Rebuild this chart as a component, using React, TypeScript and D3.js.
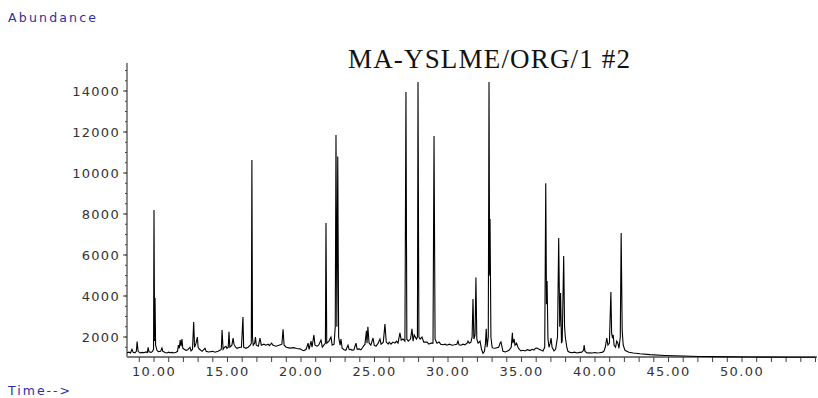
import React, { useEffect, useRef } from "react";
import * as d3 from "d3";

// chromatogram trace, [time (min), abundance]
const trace08to16: [number, number][] = [
  [8.16, 1230], [8.3, 1260], [8.4, 1220], [8.5, 1400], [8.58, 1250], [8.7, 1230], [8.8, 1300],
  [8.85, 1780], [8.92, 1300], [9.05, 1220], [9.2, 1250], [9.32, 1230], [9.45, 1270], [9.55, 1240],
  [9.6, 1500], [9.66, 1280], [9.8, 1250], [9.9, 1300], [9.97, 1400], [10.0, 8200], [10.04, 1800],
  [10.07, 3900], [10.11, 1600], [10.2, 1350], [10.3, 1280], [10.45, 1300], [10.54, 1460], [10.6, 1300],
  [10.75, 1240], [10.88, 1220], [11.0, 1260], [11.1, 1230], [11.22, 1250], [11.35, 1220], [11.5, 1260],
  [11.6, 1300], [11.66, 1600], [11.72, 1450], [11.78, 1850], [11.84, 1550], [11.9, 1900], [11.96, 1450],
  [12.05, 1400], [12.18, 1350], [12.3, 1380], [12.45, 1500], [12.52, 1320], [12.62, 1400], [12.7, 2730],
  [12.76, 1500], [12.86, 1700], [12.95, 2000], [13.0, 1500], [13.1, 1400], [13.27, 1300], [13.47, 1450],
  [13.55, 1300], [13.7, 1270], [13.81, 1280], [14.0, 1300], [14.15, 1260], [14.35, 1300], [14.49, 1350],
  [14.58, 1400], [14.63, 2340], [14.7, 1400], [14.8, 1500], [14.9, 1550], [14.96, 1450], [15.05, 1500],
  [15.1, 2250], [15.16, 1500], [15.3, 1600], [15.38, 1950], [15.44, 1650], [15.55, 1500], [15.65, 1450],
  [15.85, 1500], [15.95, 1500], [16.05, 2970], [16.1, 1500], [16.25, 1450], [16.4, 1500], [16.55, 1600],
  [16.62, 1700], [16.66, 10630], [16.7, 2000], [16.75, 1600], [16.85, 1700], [16.9, 2000], [16.96, 1600],
];

const trace17to27: [number, number][] = [
  [17.1, 1550], [17.21, 1950], [17.3, 1600], [17.48, 1650], [17.6, 1600], [17.76, 1650], [17.85, 1580],
  [18.0, 1700], [18.1, 1600], [18.3, 1550], [18.5, 1600], [18.7, 1650], [18.78, 2380], [18.85, 1600],
  [19.0, 1500], [19.25, 1460], [19.5, 1480], [19.7, 1440], [19.93, 1420], [20.1, 1350], [20.2, 1330],
  [20.35, 1400], [20.48, 1700], [20.55, 1400], [20.68, 1800], [20.75, 1500], [20.88, 2100], [20.95, 1600],
  [21.09, 1550], [21.2, 1600], [21.36, 1850], [21.45, 1500], [21.55, 1600], [21.66, 1700], [21.7, 7560],
  [21.75, 1700], [21.9, 1800], [22.04, 2000], [22.12, 1600], [22.25, 1650], [22.33, 2500], [22.38, 11850],
  [22.44, 2500], [22.5, 10800], [22.56, 2000], [22.66, 1600], [22.72, 1900], [22.8, 1450], [22.93, 1380],
  [23.05, 1350], [23.2, 1600], [23.28, 1380], [23.4, 1400], [23.47, 1350], [23.6, 1380], [23.74, 1700],
  [23.82, 1400], [23.95, 1420], [24.08, 1380], [24.2, 1500], [24.35, 1650], [24.45, 2300], [24.49, 1700],
  [24.55, 2500], [24.63, 1700], [24.75, 1600], [24.9, 1950], [24.98, 1600], [25.1, 1550], [25.25, 1700],
  [25.37, 1900], [25.45, 1650], [25.6, 1750], [25.71, 2630], [25.8, 1750], [25.92, 1650], [26.0, 1750],
  [26.12, 1650], [26.25, 1750], [26.39, 1700], [26.5, 1800], [26.6, 1700], [26.73, 2200], [26.82, 1850],
  [26.94, 1900], [27.07, 1800], [27.14, 13950], [27.2, 1900], [27.3, 1800], [27.45, 1900], [27.55, 2400],
  [27.62, 1800], [27.7, 2100], [27.85, 1900], [27.92, 2000], [27.96, 14440], [28.02, 2000],
];

const trace28to37: [number, number][] = [
  [28.1, 1900], [28.23, 2000], [28.35, 1750], [28.57, 1750], [28.7, 1650], [28.84, 1700], [28.98, 1700],
  [29.05, 11800], [29.12, 1900], [29.25, 1700], [29.39, 1760], [29.5, 1650], [29.66, 1620], [29.8, 1650],
  [29.93, 1600], [30.1, 1650], [30.27, 1600], [30.45, 1620], [30.6, 1650], [30.68, 1800], [30.75, 1620],
  [30.9, 1600], [31.02, 1650], [31.15, 1620], [31.3, 1700], [31.36, 1800], [31.45, 1700], [31.56, 1750],
  [31.64, 2000], [31.7, 3850], [31.76, 1900], [31.84, 2100], [31.9, 4900], [31.96, 1900], [32.05, 1700],
  [32.18, 1800], [32.28, 1400], [32.38, 1200], [32.48, 1300], [32.55, 1700], [32.6, 2400], [32.66, 1500],
  [32.74, 2000], [32.79, 14440], [32.83, 5000], [32.86, 7750], [32.92, 2000], [33.0, 1500], [33.06, 1460],
  [33.2, 1450], [33.33, 1480], [33.45, 1500], [33.54, 1700], [33.6, 1760], [33.74, 1300], [33.9, 1270],
  [34.01, 1300], [34.15, 1350], [34.3, 1500], [34.38, 2200], [34.42, 1700], [34.5, 1900], [34.56, 1600],
  [34.66, 1700], [34.76, 1500], [34.85, 1400], [34.97, 1320], [35.1, 1350], [35.24, 1320], [35.4, 1380],
  [35.58, 1340], [35.72, 1400], [35.85, 1360], [35.95, 1450], [36.05, 1460], [36.2, 1400], [36.35, 1350],
  [36.46, 1320], [36.58, 1500], [36.65, 9500], [36.7, 3600], [36.74, 4730], [36.8, 1900], [36.87, 1500],
  [36.95, 1700], [37.01, 1950], [37.08, 1500], [37.21, 1320], [37.32, 1400], [37.45, 2000], [37.53, 6830],
  [37.6, 2500], [37.66, 4150], [37.72, 1700], [37.77, 1800], [37.87, 5950], [37.93, 2500], [37.98, 2000],
];

const trace38to55: [number, number][] = [
  [38.08, 1500], [38.16, 1300], [38.3, 1250], [38.44, 1230], [38.6, 1260], [38.78, 1220], [38.95, 1250],
  [39.1, 1260], [39.22, 1350], [39.26, 1600], [39.32, 1300], [39.46, 1220], [39.6, 1230], [39.8, 1220],
  [40.0, 1240], [40.14, 1220], [40.3, 1230], [40.48, 1250], [40.6, 1300], [40.7, 1500], [40.8, 1950],
  [40.88, 1600], [40.98, 1700], [41.08, 4200], [41.13, 2200], [41.18, 2000], [41.24, 2100], [41.3, 1600],
  [41.4, 1500], [41.48, 1800], [41.56, 1700], [41.63, 1450], [41.72, 2000], [41.78, 7070], [41.85, 2300],
  [41.92, 1600], [42.04, 1350], [42.3, 1260], [42.6, 1220], [43.06, 1180], [43.74, 1140], [44.76, 1100],
  [46.0, 1070], [47.1, 1050], [48.0, 1045], [49.2, 1030], [50.5, 1025], [51.2, 1020], [53.3, 1015],
  [55.0, 1010],
];

const signal = [...trace08to16, ...trace17to27, ...trace28to37, ...trace38to55];

const yTickValues = [2000, 4000, 6000, 8000, 10000, 12000, 14000];
const xTickValues = [10, 15, 20, 25, 30, 35, 40, 45, 50];
const title = "MA-YSLME/ORG/1 #2";

const W = 818;
const H = 398;
const axisLeft = 127;
const axisTop = 63;
const axisBottom = 357;
const axisRight = 817;

const App = () => {
  const svgRef = useRef<SVGSVGElement>(null);

  useEffect(() => {
    const svg = d3.select(svgRef.current);
    svg.selectAll("*").remove();

    // 14.7 px per minute, 20.5 px per 1000 counts
    const x = d3.scaleLinear().domain([10, 50]).range([154, 742]);
    const y = d3.scaleLinear().domain([2000, 14000]).range([337, 91]);

    const labelFont = "'DejaVu Sans', sans-serif";
    const blue = "#2f2f9c";

    // y axis
    const yAxis = svg
      .append("g")
      .attr("transform", `translate(${axisLeft},0)`);
    yAxis
      .append("line")
      .attr("y1", axisTop)
      .attr("y2", axisBottom)
      .attr("stroke", "#404040")
      .attr("stroke-width", 1.2);
    const yMinor = d3.range(1500, 15001, 500);
    yAxis
      .selectAll(".minor")
      .data(yMinor)
      .join("line")
      .attr("x1", -2)
      .attr("x2", 0)
      .attr("y1", (d) => y(d))
      .attr("y2", (d) => y(d))
      .attr("stroke", "#404040");
    yAxis
      .selectAll(".major")
      .data(yTickValues)
      .join("line")
      .attr("x1", -4)
      .attr("x2", 0)
      .attr("y1", (d) => y(d))
      .attr("y2", (d) => y(d))
      .attr("stroke", "#404040");
    yAxis
      .selectAll("text")
      .data(yTickValues)
      .join("text")
      .attr("x", -7)
      .attr("y", (d) => y(d))
      .attr("dy", "0.35em")
      .attr("text-anchor", "end")
      .style("font-family", labelFont)
      .style("font-size", "13px")
      .style("letter-spacing", "1.3px")
      .style("fill", "#333")
      .text((d) => String(d));

    // x axis
    const xAxis = svg.append("g").attr("transform", `translate(0,${axisBottom})`);
    xAxis
      .append("line")
      .attr("x1", axisLeft)
      .attr("x2", axisRight)
      .attr("stroke", "#7a7a7a")
      .attr("stroke-width", 2);
    xAxis
      .selectAll(".tick")
      .data(d3.range(9, 56, 1))
      .join("line")
      .attr("x1", (d) => x(d))
      .attr("x2", (d) => x(d))
      .attr("y1", 0)
      .attr("y2", 5)
      .attr("stroke", "#404040");
    xAxis
      .selectAll("text")
      .data(xTickValues)
      .join("text")
      .attr("x", (d) => x(d))
      .attr("y", 19)
      .attr("text-anchor", "middle")
      .style("font-family", labelFont)
      .style("font-size", "13px")
      .style("letter-spacing", "1.4px")
      .style("fill", "#333")
      .text((d) => d.toFixed(2));

    // trace
    const line = d3
      .line<[number, number]>()
      .x((d) => x(d[0]))
      .y((d) => y(d[1]));
    svg
      .append("path")
      .datum(signal)
      .attr("fill", "none")
      .attr("stroke", "#000")
      .attr("stroke-width", 1.1)
      .attr("stroke-linejoin", "miter")
      .attr("d", line);

    // labels
    svg
      .append("text")
      .attr("x", 8)
      .attr("y", 22)
      .style("font-family", labelFont)
      .style("font-size", "12.5px")
      .style("letter-spacing", "2.2px")
      .style("fill", blue)
      .text("Abundance");
    svg
      .append("text")
      .attr("x", 8)
      .attr("y", 395)
      .style("font-family", labelFont)
      .style("font-size", "12.5px")
      .style("letter-spacing", "2px")
      .style("fill", blue)
      .text("Time-->");
    svg
      .append("text")
      .attr("x", 348)
      .attr("y", 68)
      .attr("textLength", 282)
      .style("font-family", "'Liberation Serif', serif")
      .style("font-size", "27px")
      .style("fill", "#111")
      .text(title);
  }, []);

  return (
    <div style={{ position: "absolute", left: 0, top: 0 }}>
      <svg ref={svgRef} width={W} height={H} style={{ display: "block", background: "#fff" }}></svg>
    </div>
  );
};

export default App;
